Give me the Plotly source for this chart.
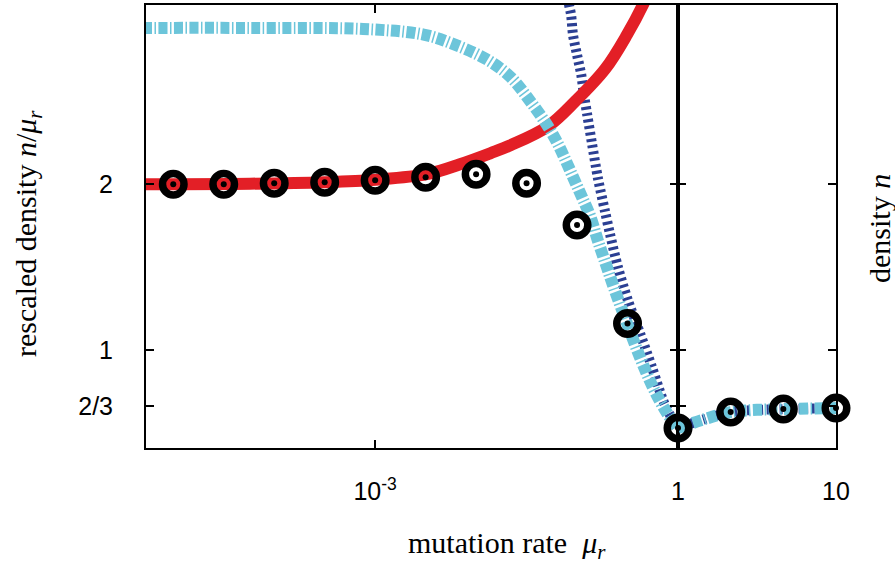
import plotly.graph_objects as go

# ---------------- data ----------------
# left panel: mutation rate mu_r (log axis), rescaled density n/mu_r
red_mu = [5.0e-6, 5.75e-5, 3.16e-4, 1.02e-3, 3.24e-3, 6.92e-3, 1.38e-2, 2.19e-2,
          5.13e-2, 9.55e-2, 0.191, 0.313, 0.450, 0.52]
red_val = [2.0, 2.003, 2.012, 2.027, 2.06, 2.12, 2.186, 2.234,
           2.347, 2.497, 2.695, 2.90, 3.08, 3.17]

blue_mu = [5.0e-6, 5.75e-5, 7.59e-4, 3.02e-3, 5.89e-3, 1.29e-2, 2.19e-2, 3.43e-2,
           5.16e-2, 6.49e-2, 7.78e-2, 9.33e-2, 0.112, 0.135, 0.161, 0.194,
           0.232, 0.313, 0.421, 0.565, 0.778, 1.0]
blue_val = [2.94, 2.94, 2.934, 2.90, 2.844, 2.749, 2.645, 2.50,
            2.347, 2.24, 2.138, 2.03, 1.922, 1.808, 1.659, 1.515,
            1.377, 1.162, 0.958, 0.778, 0.623, 0.533]

navy_mu = [7.8e-2, 8.34e-2, 8.73e-2, 9.12e-2, 0.1, 0.110, 0.117, 0.126,
           0.141, 0.161, 0.189, 0.212, 0.255, 0.320, 0.421, 0.553,
           0.710, 0.834, 1.0]
navy_val = [3.2, 3.078, 3.018, 2.898, 2.778, 2.659, 2.539, 2.419,
            2.240, 2.036, 1.838, 1.701, 1.497, 1.299, 1.102, 0.898,
            0.701, 0.611, 0.533]

pts_mu = [1e-5, 3.162e-5, 1e-4, 3.162e-4, 1e-3, 3.162e-3, 1e-2, 3.162e-2, 0.1, 0.3162]
pts_val = [2.0, 2.0, 2.006, 2.012, 2.024, 2.042, 2.06, 2.006, 1.754, 1.162]

# right panel: mutation rate (linear axis 1..10), density n
right_mu = [1, 4, 7, 10]
right_val = [0.533, 0.629, 0.647, 0.653]

y_tickvals = [2 / 3, 1, 2]
y_ticktext = ["2/3", "1", "2"]

# ---------------- styles ----------------
RED = "#e31f26"
LBLUE = "#6cc5da"
NAVY = "#2b3f93"
SERIF = "Liberation Serif, Times New Roman, serif"
SANS = "Liberation Sans, Arial, sans-serif"

fig = go.Figure()

NAVY_DASH = "3px,3.5px"
BL_DASH = "9px,2.5px,1.5px,2.5px"

# navy (bottom-most)
fig.add_trace(go.Scatter(x=navy_mu, y=navy_val, mode="lines", xaxis="x", yaxis="y",
                         line=dict(color=NAVY, width=10, dash=NAVY_DASH, shape="spline", smoothing=0.8)))
fig.add_trace(go.Scatter(x=right_mu, y=right_val, mode="lines", xaxis="x2", yaxis="y2",
                         line=dict(color=NAVY, width=10, dash=NAVY_DASH, shape="spline", smoothing=0.8)))
# red
fig.add_trace(go.Scatter(x=red_mu, y=red_val, mode="lines", xaxis="x", yaxis="y",
                         line=dict(color=RED, width=12, shape="spline", smoothing=1)))
# light blue dash-dot
fig.add_trace(go.Scatter(x=blue_mu, y=blue_val, mode="lines", xaxis="x", yaxis="y",
                         line=dict(color=LBLUE, width=12, dash=BL_DASH, shape="spline", smoothing=1)))
fig.add_trace(go.Scatter(x=right_mu, y=right_val, mode="lines", xaxis="x2", yaxis="y2",
                         line=dict(color=LBLUE, width=12, dash=BL_DASH, shape="spline", smoothing=0.8)))

# markers: black annulus with black centre dot
for xs, ys, xa, ya in [(pts_mu, pts_val, "x", "y"), (right_mu, right_val, "x2", "y2")]:
    fig.add_trace(go.Scatter(x=xs, y=ys, mode="markers", xaxis=xa, yaxis=ya, cliponaxis=False,
                             marker=dict(symbol="circle-open", size=21.5, color="black",
                                         line=dict(color="black", width=7.5))))
    fig.add_trace(go.Scatter(x=xs, y=ys, mode="markers", xaxis=xa, yaxis=ya, cliponaxis=False,
                             marker=dict(symbol="circle", size=6, color="black",
                                         line=dict(width=0))))

split = (678 - 146) / (836 - 146)
yr = [0.413, 3.078]
common = dict(showline=True, linecolor="black", linewidth=2, mirror="ticks",
              ticks="inside", ticklen=8, tickwidth=1.5, tickcolor="black",
              showgrid=False, zeroline=False)

fig.update_layout(
    width=895, height=563,
    margin=dict(l=146, r=59, t=3, b=115),
    paper_bgcolor="white", plot_bgcolor="white",
    showlegend=False,
    font=dict(family=SANS, size=25, color="black"),
    xaxis=dict(type="log", domain=[0, split], range=[-5.27, 0], anchor="y",
               tickvals=[1e-3], ticktext=["10<sup>-3</sup>"], ticklabelstandoff=20,
               **common),
    xaxis2=dict(type="linear", domain=[split, 1], range=[1, 10], anchor="y2",
                tickvals=[1, 10], ticktext=["1", "10"], ticklabelstandoff=20,
                **{**common, "ticks": "", "mirror": True}),
    yaxis=dict(range=yr, anchor="x", tickvals=y_tickvals, ticktext=y_ticktext,
               ticklabelstandoff=26, **common),
    yaxis2=dict(range=yr, anchor="x2", matches="y", tickvals=y_tickvals,
                showticklabels=False, **common),
    annotations=[
        dict(text="rescaled density <i>n</i>/<i>μ<sub>r</sub></i>", xref="paper", yref="paper",
             x=-146 / 690 + 28 / 690, y=(448 - 233) / 445, showarrow=False, textangle=-90,
             font=dict(family=SERIF, size=30), xanchor="center", yanchor="middle"),
        dict(text="mutation rate  <i>μ<sub>r</sub></i>", xref="paper", yref="paper",
             x=(507 - 146) / 690, y=-(545 - 448) / 445, showarrow=False,
             font=dict(family=SERIF, size=30), xanchor="center", yanchor="middle"),
        dict(text="density <i>n</i>", xref="paper", yref="paper",
             x=(880 - 146) / 690, y=(448 - 228) / 445, showarrow=False, textangle=-90,
             font=dict(family=SERIF, size=30), xanchor="center", yanchor="middle"),
    ],
)

fig.write_html("out.html")
